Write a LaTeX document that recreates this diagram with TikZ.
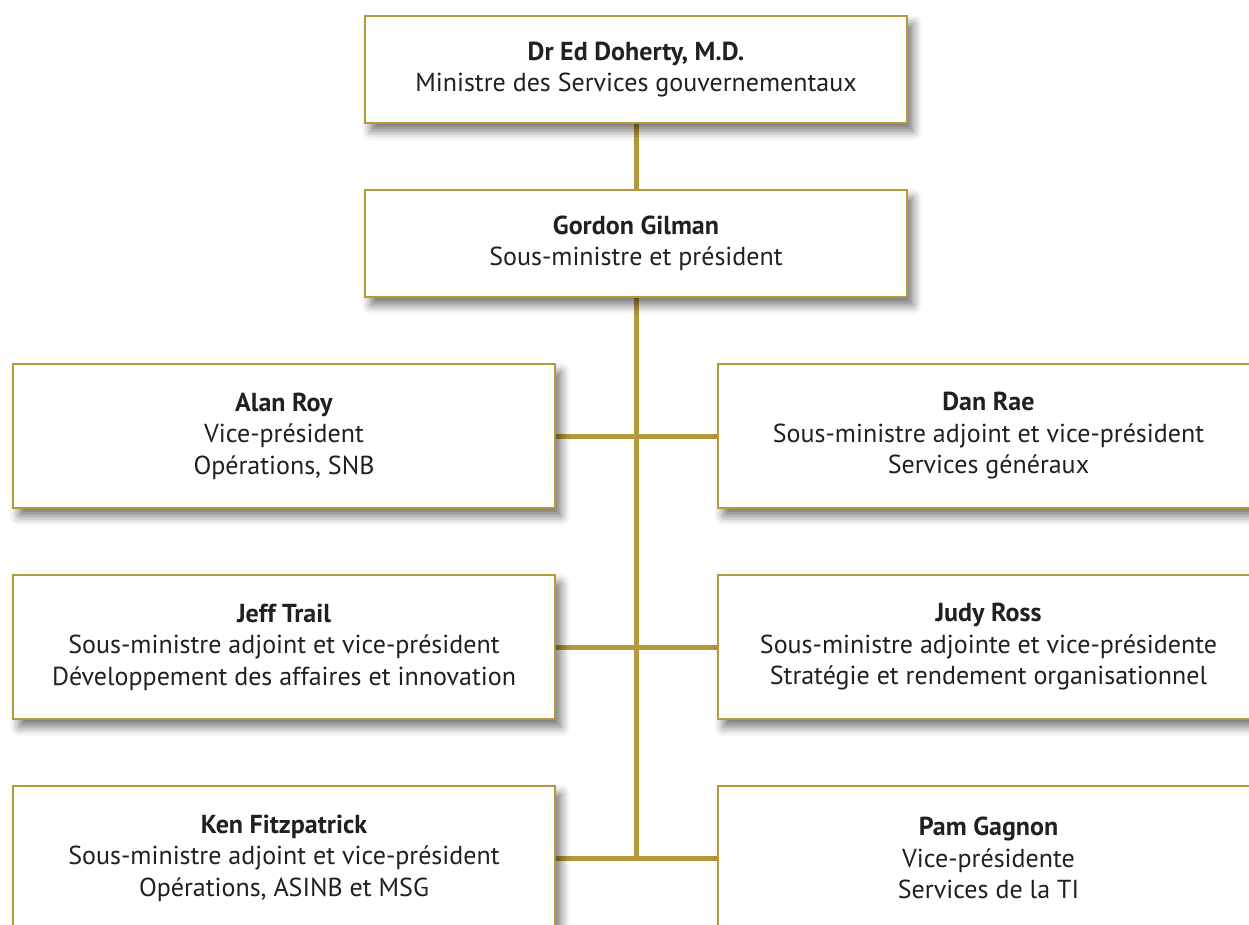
\documentclass[tikz,border=0pt]{standalone}
\usepackage{fontspec}
\setmainfont{PT Sans}
\usetikzlibrary{shadows.blur}
\definecolor{gold}{RGB}{181,153,59}
\definecolor{txt}{RGB}{35,31,32}
\pgfdeclarelayer{bg}
\pgfsetlayers{bg,main}
\tikzset{
  orgbox/.style={draw=gold, line width=2pt, fill=white, align=center, text=txt,
    font=\fontsize{26}{31.5}\selectfont, inner sep=0pt,
    minimum width=542pt, minimum height=144pt,
    blur shadow={shadow xshift=6pt, shadow yshift=-8pt, shadow blur radius=9pt, shadow opacity=55}},
  topbox/.style={orgbox, minimum height=107pt},
  link/.style={draw=gold, line width=5pt}
}
\begin{document}
\begin{tikzpicture}[x=1pt,y=-1pt]
\useasboundingbox (0,0) rectangle (1249,924);
\node[topbox] (min) at (636,69.5) {\textbf{Dr Ed Doherty, M.D.}\\Ministre des Services gouvernementaux};
\node[topbox] (gg) at (636,243.5) {\textbf{Gordon Gilman}\\Sous-ministre et président};
\node[orgbox] (alan) at (284,436) {\textbf{Alan Roy}\\Vice-président\\Opérations, SNB};
\node[orgbox] (dan) at (988.5,436) {\textbf{Dan Rae}\\Sous-ministre adjoint et vice-président\\Services généraux};
\node[orgbox] (jeff) at (284,647) {\textbf{Jeff Trail}\\Sous-ministre adjoint et vice-président\\Développement des affaires et innovation};
\node[orgbox] (judy) at (988.5,647) {\textbf{Judy Ross}\\Sous-ministre adjointe et vice-présidente\\Stratégie et rendement organisationnel};
\node[orgbox] (ken) at (284,858) {\textbf{Ken Fitzpatrick}\\Sous-ministre adjoint et vice-président\\Opérations, ASINB et MSG};
\node[orgbox] (pam) at (988.5,858) {\textbf{Pam Gagnon}\\Vice-présidente\\Services de la TI};
\coordinate (bot) at (636,858);
\begin{pgfonlayer}{bg}
\draw[link] (min.south) -- (gg.north);
\draw[link] (gg.south) -- (bot);
\draw[link] (alan.east) -- (dan.west);
\draw[link] (jeff.east) -- (judy.west);
\draw[link] (ken.east) -- (pam.west);
\end{pgfonlayer}
\end{tikzpicture}
\end{document}
